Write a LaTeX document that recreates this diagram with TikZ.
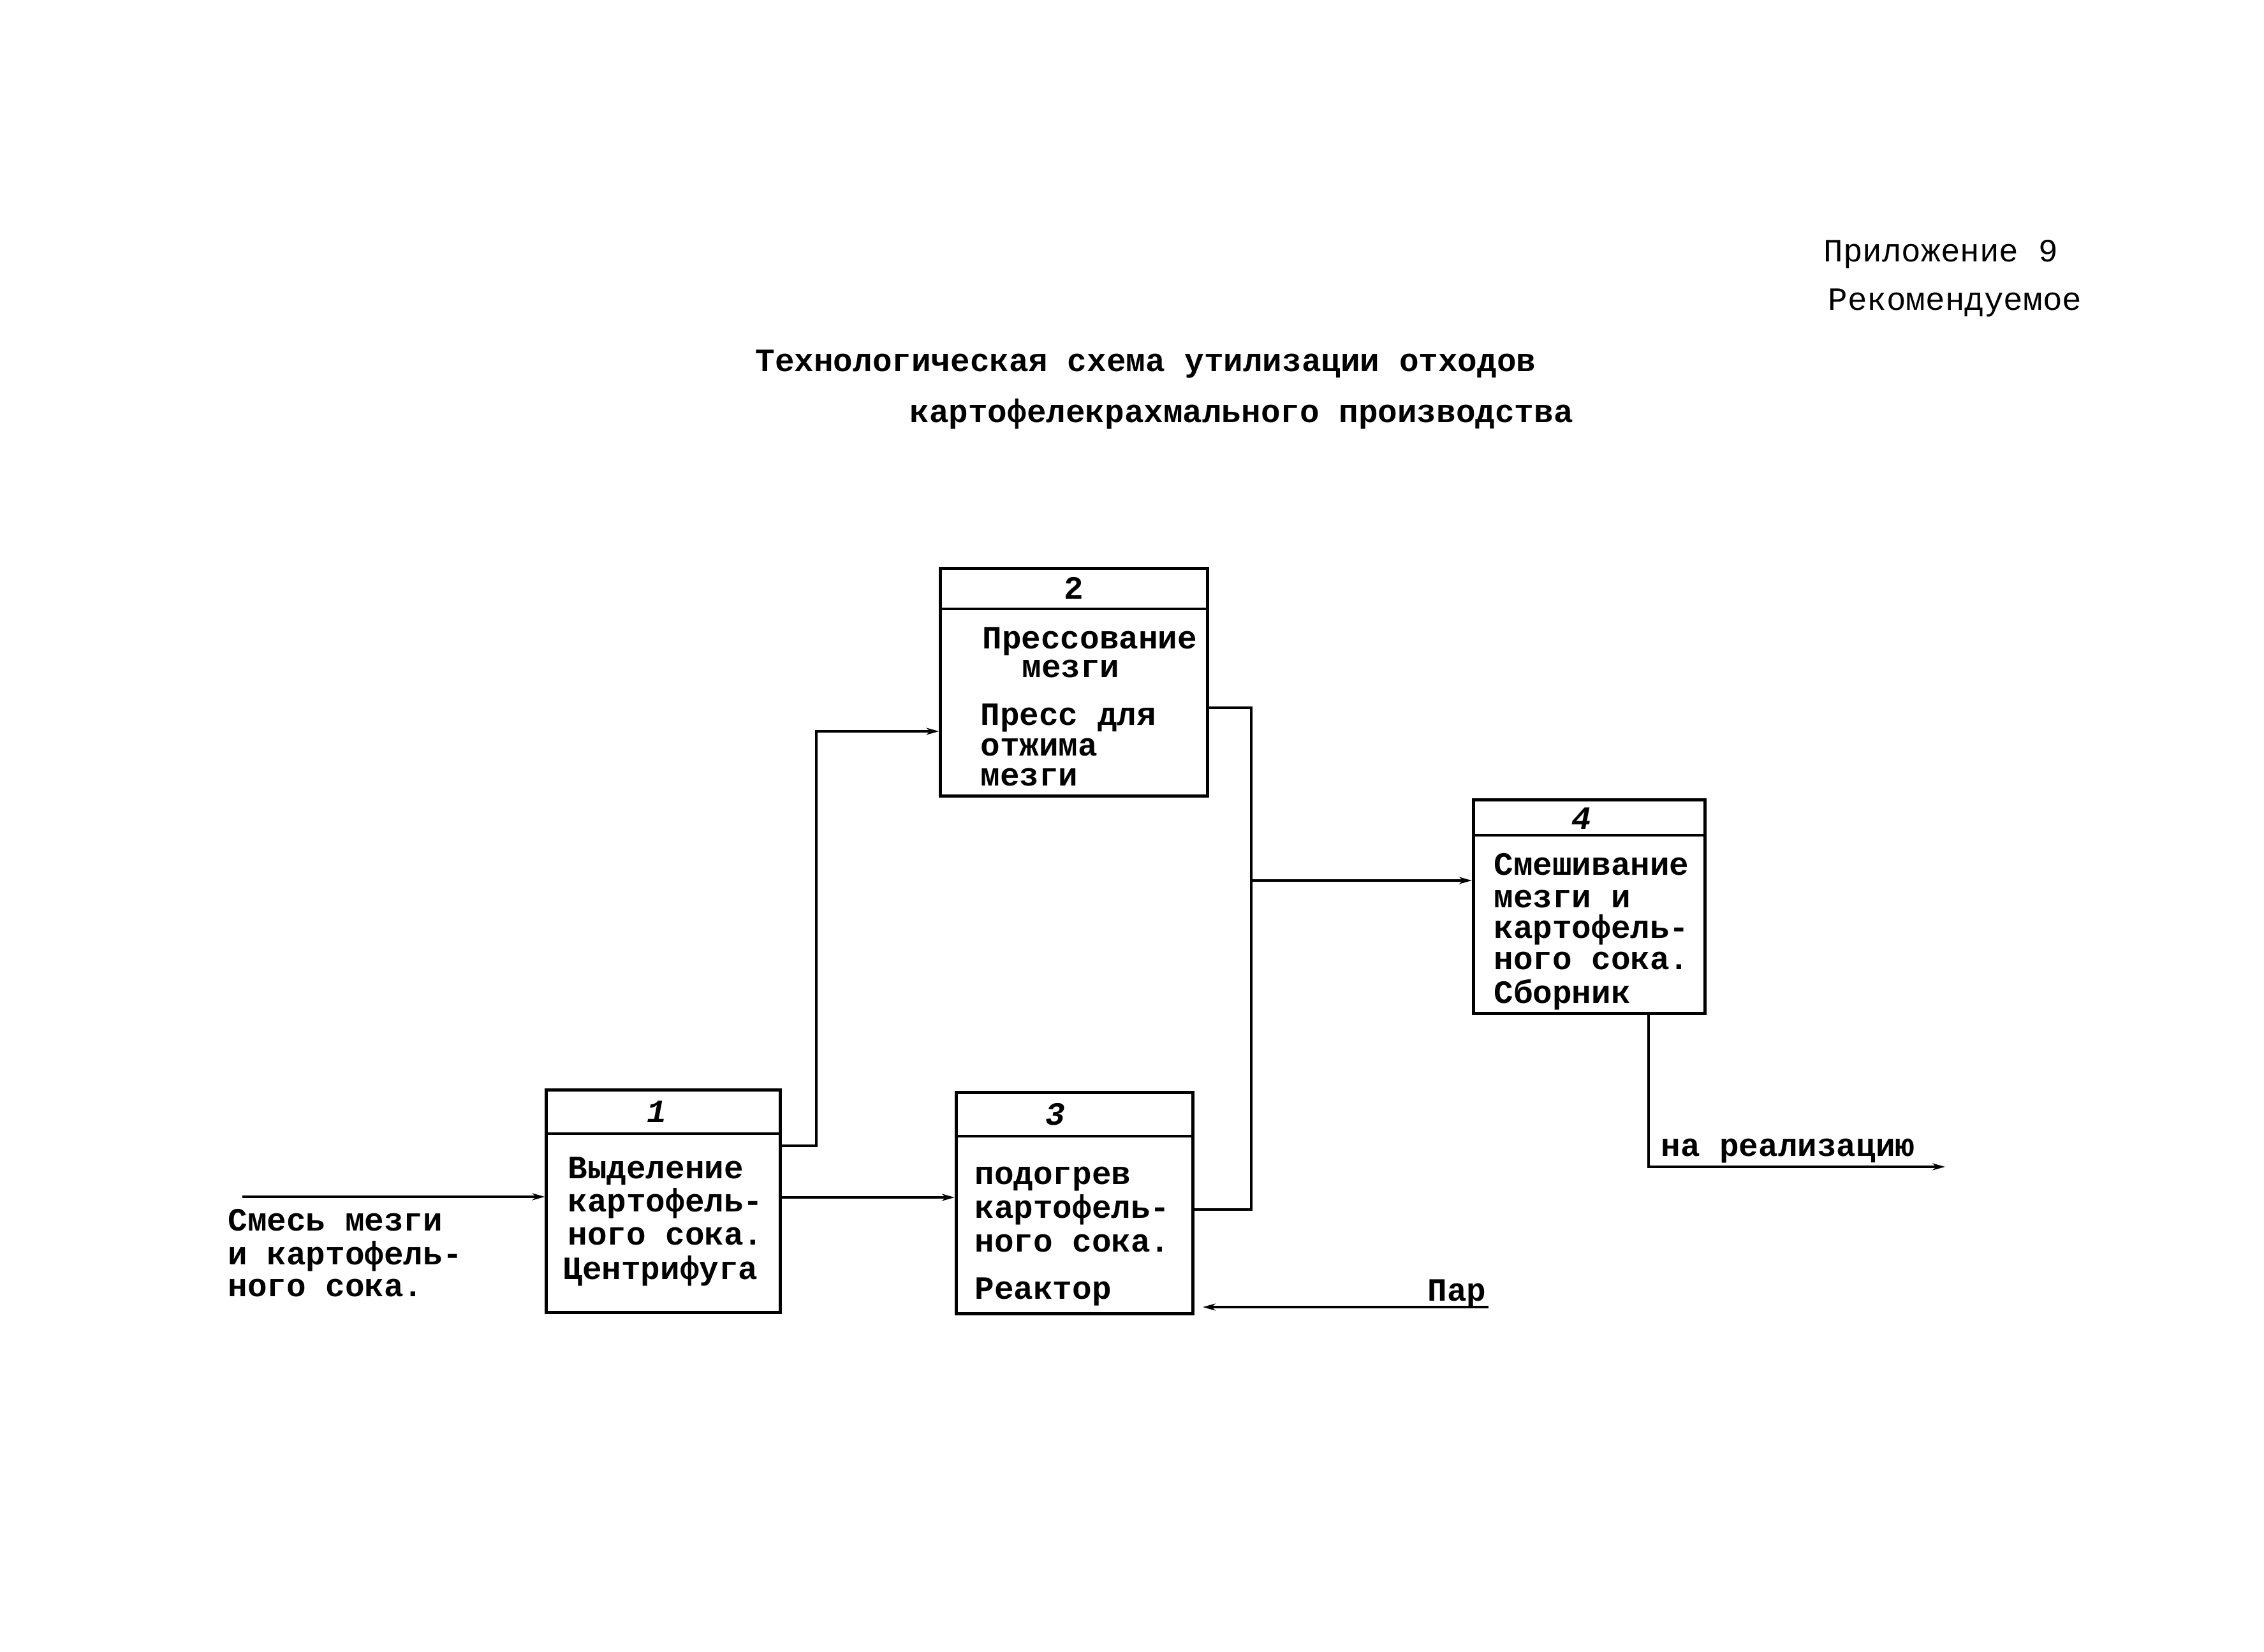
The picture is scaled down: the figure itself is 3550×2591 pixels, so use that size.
\documentclass[tikz,border=0pt]{standalone}
\usepackage{fontspec}
\setmainfont{Liberation Mono}
\usetikzlibrary{arrows.meta,calc}
\begin{document}
\begin{tikzpicture}[x=0.01cm,y=-0.01cm,
  line width=1.4pt,
  box/.style={draw,rectangle,inner sep=0pt},
  txt/.style={anchor=base west,inner sep=0pt,font=\fontsize{14.5}{15}\selectfont\bfseries},
  htxt/.style={anchor=base west,inner sep=0pt,font=\fontsize{14.5}{15}\selectfont},
  num/.style={inner sep=0pt,font=\fontsize{14.5}{15}\selectfont\bfseries},
  arr/.style={-{Stealth[length=0.2cm,width=0.11cm]}}]
\useasboundingbox (0,0) rectangle (3550,2591);

% header and title
\node[htxt] (h1) at (2857,410) {Приложение 9};
\node[htxt] (h2) at (2864,486) {Рекомендуемое};
\node[txt] (t1) at (1182,582) {Технологическая схема утилизации отходов};
\node[txt] (t2) at (1424,662) {картофелекрахмального производства};

% boxes
\node[box,minimum width=3.66cm,minimum height=3.48cm] (b1) at (1040,1884) {};
\node[box,minimum width=4.18cm,minimum height=3.56cm] (b2) at (1684,1070) {};
\node[box,minimum width=3.71cm,minimum height=3.46cm] (b3) at (1685,1887) {};
\node[box,minimum width=3.63cm,minimum height=3.35cm] (b4) at (2492,1422) {};
\draw (b1.west |- 0,1778) -- (b1.east |- 0,1778);
\draw (b2.west |- 0,955) -- (b2.east |- 0,955);
\draw (b3.west |- 0,1782) -- (b3.east |- 0,1782);
\draw (b4.west |- 0,1310) -- (b4.east |- 0,1310);

% numbers
\node[num] (n1) at (1030,1744) {\itshape 1};
\node[num] (n2) at (1684,922) {2};
\node[num] (n3) at (1655,1748) {\itshape 3};
\node[num] (n4) at (2480,1284) {\itshape 4};

% box 1 text
\node[txt] (b1a) at (888,1848) {Выделение};
\node[txt] (b1b) at (888,1900) {картофель-};
\node[txt] (b1c) at (888,1952) {ного сока.};
\node[txt] (b1d) at (880,2006) {Центрифуга};

% box 2 text
\node[txt] (b2a) at (1538,1017) {Прессование};
\node[txt] (b2b) at (1600,1062) {мезги};
\node[txt] (b2c) at (1535,1137) {Пресс для};
\node[txt] (b2d) at (1535,1185) {отжима};
\node[txt] (b2e) at (1535,1232) {мезги};

% box 3 text
\node[txt] (b3a) at (1526,1857) {подогрев};
\node[txt] (b3b) at (1526,1910) {картофель-};
\node[txt] (b3c) at (1526,1963) {ного сока.};
\node[txt] (b3d) at (1526,2037) {Реактор};

% box 4 text
\node[txt] (b4a) at (2340,1372) {Смешивание};
\node[txt] (b4b) at (2340,1423) {мезги и};
\node[txt] (b4c) at (2340,1471) {картофель-};
\node[txt] (b4d) at (2340,1520) {ного сока.};
\node[txt] (b4e) at (2340,1573) {Сборник};

% input label
\node[txt] (in1) at (355,1930) {Смесь мезги};
\node[txt] (in2) at (355,1983) {и картофель-};
\node[txt] (in3) at (355,2033) {ного сока.};
\coordinate (inS) at (380,1877);
\draw[arr] (inS) -- (b1.west |- inS);

% box1 -> box2
\draw[arr] (b1.east |- 0,1797) -- (1280,1797) -- (1280,1147) -- (b2.west |- 0,1147);
% box1 -> box3
\draw[arr] (b1.east |- 0,1878) -- (b3.west |- 0,1878);
% box2, box3 -> box4
\coordinate (j) at (1962,1381);
\draw (b2.east |- 0,1110) -- (1962,1110) -- (1962,1897) -- (b3.east |- 0,1897);
\draw[arr] (j) -- (b4.west |- j);
% box4 -> out
\coordinate (outE) at (3050,1830);
\draw[arr] (b4.south -| 2585,0) -- (2585,1830) -- (outE);
\node[txt] (out) at (2602,1813) {на реализацию};
% steam
\coordinate (parS) at (2334,2050);
\coordinate (parE) at (1886,2050);
\node[txt] (par) at (2236,2040) {Пар};
\draw[arr] (parS) -- (parE);
\end{tikzpicture}
\end{document}
